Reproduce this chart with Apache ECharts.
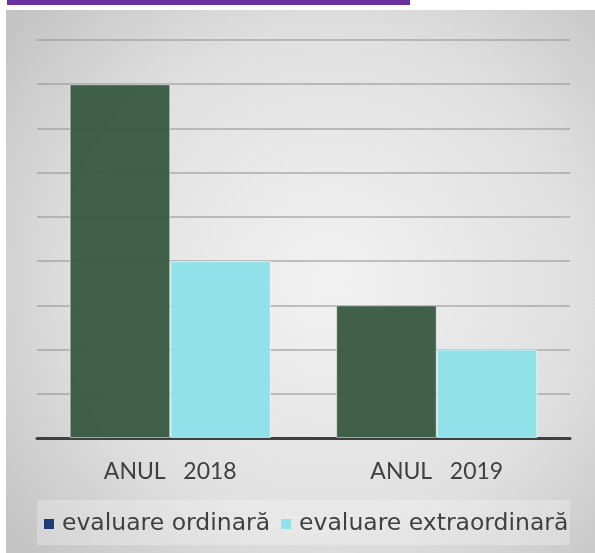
<!DOCTYPE html>
<html><head><meta charset="utf-8">
<script src="https://cdn.jsdelivr.net/npm/echarts@6/dist/echarts.min.js"></script>
<style>html,body{margin:0;padding:0;background:#fff}#c{width:595px;height:553px}</style>
</head><body><div id="c"></div>
<script>
var categories = ['ANUL   2018', 'ANUL   2019'];
var ordinara = [8, 3];
var extraordinara = [4, 2];
var seriesNames = ['evaluare ordinară', 'evaluare extraordinară'];

var chart = echarts.init(document.getElementById('c'));
var font = 'Lato, "Open Sans", sans-serif';
chart.setOption({
  animation: false,
  backgroundColor: '#ffffff',
  graphic: [
    {type: 'rect', z: -10, shape: {x: 6, y: 10, width: 589, height: 543},
     style: {fill: {type: 'radial', x: 0.55, y: 0.5, r: 0.75,
       colorStops: [{offset: 0, color: '#f2f2f2'}, {offset: 0.6, color: '#e0e0e0'}, {offset: 1, color: '#c4c4c4'}]}}},
    {type: 'rect', z: -5, shape: {x: 37, y: 500, width: 533, height: 45}, style: {fill: 'rgba(255,255,255,0.25)'}},
    {type: 'rect', z: 10, shape: {x: 7, y: 0, width: 403, height: 5}, style: {fill: '#6a2fa0'}},
    {type: 'rect', z: 10, shape: {x: 69, y: 0, width: 4, height: 1}, style: {fill: '#6a2fa0'}},
    {type: 'rect', z: 10, shape: {x: 175, y: 0, width: 4, height: 1}, style: {fill: '#6a2fa0'}}
  ],
  grid: {left: 37, right: 25, top: 40, bottom: 115, containLabel: false},
  legend: {
    bottom: 12, left: 39, itemGap: 11, itemWidth: 10, itemHeight: 10, icon: 'rect',
    textStyle: {fontFamily: '"DejaVu Sans", sans-serif', fontSize: 23.5, color: '#404040', padding: [0, 0, 0, 3]},
    data: [
      {name: seriesNames[0], itemStyle: {color: '#1f3a78', borderWidth: 0}},
      {name: seriesNames[1], itemStyle: {color: '#8fe3e8', borderWidth: 0}}
    ]
  },
  xAxis: {
    type: 'category', data: categories,
    axisLine: {lineStyle: {color: '#404040', width: 3}},
    axisTick: {show: false},
    axisLabel: {margin: 22, fontFamily: font, fontSize: 23, color: '#404040'}
  },
  yAxis: {
    type: 'value', min: 0, max: 9, interval: 1,
    axisLabel: {show: false}, axisLine: {show: false}, axisTick: {show: false},
    splitLine: {lineStyle: {color: 'rgba(150,150,150,0.55)', width: 2}}
  },
  series: [
    {name: seriesNames[0], type: 'bar', data: ordinara, barGap: '0%', barCategoryGap: '24.5%',
     itemStyle: {color: 'rgba(55,88,65,0.95)', borderColor: 'rgba(255,255,255,0.5)', borderWidth: 1}},
    {name: seriesNames[1], type: 'bar', data: extraordinara,
     itemStyle: {color: 'rgba(140,226,232,0.95)', borderColor: 'rgba(255,255,255,0.6)', borderWidth: 1}}
  ]
});
</script></body></html>
